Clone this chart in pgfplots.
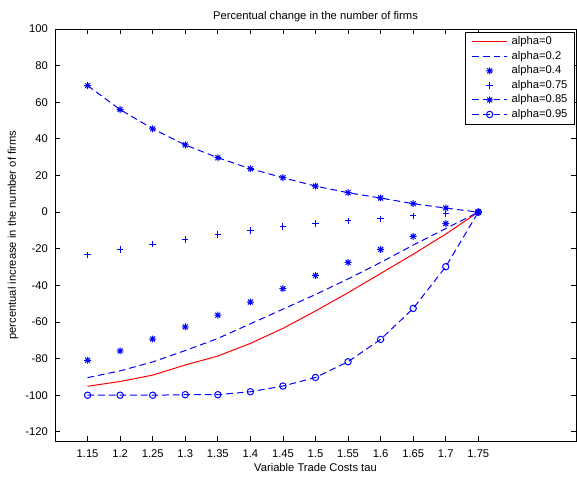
\documentclass[border=0pt]{standalone}
\usepackage{fontspec}
\setmainfont{Liberation Sans}
\usepackage{pgfplots}
\pgfplotsset{compat=1.18}
\definecolor{mblue}{RGB}{0,0,255}
\definecolor{mred}{RGB}{255,0,0}
\pgfdeclareplotmark{mstar}{%
  \pgfpathmoveto{\pgfqpoint{-\pgfplotmarksize}{0pt}}\pgfpathlineto{\pgfqpoint{\pgfplotmarksize}{0pt}}%
  \pgfpathmoveto{\pgfqpoint{0pt}{-\pgfplotmarksize}}\pgfpathlineto{\pgfqpoint{0pt}{\pgfplotmarksize}}%
  \pgfpathmoveto{\pgfqpoint{-.707\pgfplotmarksize}{-.707\pgfplotmarksize}}\pgfpathlineto{\pgfqpoint{.707\pgfplotmarksize}{.707\pgfplotmarksize}}%
  \pgfpathmoveto{\pgfqpoint{-.707\pgfplotmarksize}{.707\pgfplotmarksize}}\pgfpathlineto{\pgfqpoint{.707\pgfplotmarksize}{-.707\pgfplotmarksize}}%
  \pgfusepathqstroke}
\newcommand{\chartfont}{\fontsize{8.4}{10}\selectfont}
\begin{document}
\begin{tikzpicture}
\path[use as bounding box] (-41.25pt,-26.25pt) rectangle (391.5pt,330.75pt);
\begin{axis}[
  at={(0,0)}, anchor=south west,
  scale only axis, width=390.75pt, height=309pt,
  xmin=1.1, xmax=1.9, ymin=-125, ymax=100,
  xtick={1.15,1.2,1.25,1.3,1.35,1.4,1.45,1.5,1.55,1.6,1.65,1.7,1.75},
  ytick={-120,-100,-80,-60,-40,-20,0,20,40,60,80,100},
  /pgf/number format/fixed,
  /pgf/number format/precision=2,
  /pgf/number format/assume math mode=true,
  tick align=inside, major tick length=4pt,
  axis line style={line width=0.7pt},
  every tick/.style={black, line width=0.6pt},
  font=\chartfont,
  tick label style={font=\chartfont},
  xticklabel style={anchor=base, yshift=-12.4pt},
  yticklabel style={anchor=east, inner sep=0pt, xshift=-5.25pt},
  title={Percentual change in the number of firms},
  every axis title/.style={at={(axis description cs:0.5,1.023)}, anchor=base, inner sep=0pt, font=\chartfont},
  xlabel={Variable Trade Costs tau},
  xlabel style={at={(axis description cs:0.5,-0.0728)}, anchor=base, inner sep=0pt},
  ylabel={percentual increase in the number of firms},
  ylabel style={at={(axis description cs:-0.0749,0.5)}, anchor=base, inner sep=0pt},
  legend image code/.code={\draw[mark repeat=2,mark phase=2] plot coordinates {(0pt,0pt) (13.1pt,0pt) (26.25pt,0pt)};},
  legend style={at={(1,1)}, anchor=north east, xshift=-1pt, yshift=-2.25pt,
    draw=black, font=\chartfont,
    cells={anchor=west}, row sep=2.8pt, column sep=3pt,
    inner xsep=5.2pt, inner ysep=3.1pt,
    nodes={text height=6.3pt, text depth=1.8pt, inner sep=0pt}},
]
\addplot[color=mred, line width=0.75pt] coordinates {
(1.15,-95.1) (1.2,-92.5) (1.25,-89.0) (1.3,-83.5) (1.35,-78.6) (1.4,-71.7) (1.45,-63.5)
(1.5,-54.0) (1.55,-44.0) (1.6,-33.5) (1.65,-23.0) (1.7,-12.0) (1.75,0)};
\addlegendentry{alpha=0}
\addplot[color=mblue, line width=0.75pt, dash pattern=on 5pt off 3pt] coordinates {
(1.15,-90.4) (1.2,-86.7) (1.25,-81.8) (1.3,-75.6) (1.35,-69.0) (1.4,-61.0) (1.45,-53.0)
(1.5,-45.0) (1.55,-36.5) (1.6,-27.5) (1.65,-18.0) (1.7,-9.0) (1.75,0)};
\addlegendentry{alpha=0.2}
\addplot[color=mblue, only marks, mark=mstar, mark size=2.6pt, line width=0.75pt] coordinates {
(1.15,-80.9) (1.2,-75.8) (1.25,-69.3) (1.3,-62.7) (1.35,-56.3) (1.4,-49.1) (1.45,-41.8)
(1.5,-34.6) (1.55,-27.5) (1.6,-20.4) (1.65,-13.3) (1.7,-6.3) (1.75,0)};
\addlegendentry{alpha=0.4}
\addplot[color=mblue, only marks, mark=+, mark size=2.4pt, line width=0.75pt] coordinates {
(1.15,-23.3) (1.2,-20.4) (1.25,-17.5) (1.3,-14.9) (1.35,-12.2) (1.4,-10.1) (1.45,-7.9)
(1.5,-6.3) (1.55,-4.8) (1.6,-3.6) (1.65,-2.1) (1.7,-1.0) (1.75,0)};
\addlegendentry{alpha=0.75}
\addplot[color=mblue, line width=0.75pt, dash pattern=on 5pt off 3pt, mark=mstar, mark size=2.6pt, mark options={solid}] coordinates {
(1.15,69.1) (1.2,56.0) (1.25,45.5) (1.3,36.7) (1.35,29.7) (1.4,23.7) (1.45,18.8)
(1.5,14.2) (1.55,10.6) (1.6,7.7) (1.65,4.6) (1.7,2.2) (1.75,0)};
\addlegendentry{alpha=0.85}
\addplot[color=mblue, line width=0.75pt, dash pattern=on 5pt off 3pt, mark=o, mark size=2.4pt, mark options={solid}] coordinates {
(1.15,-100) (1.2,-100) (1.25,-100) (1.3,-99.7) (1.35,-99.7) (1.4,-98.1) (1.45,-95.0)
(1.5,-90.3) (1.55,-81.7) (1.6,-69.5) (1.65,-52.6) (1.7,-29.8) (1.75,0)};
\addlegendentry{alpha=0.95}
\end{axis}
\end{tikzpicture}
\end{document}
